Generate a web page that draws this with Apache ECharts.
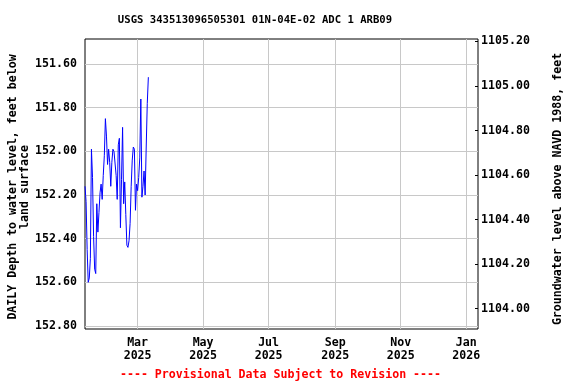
<!DOCTYPE html>
<html>
<head>
<meta charset="utf-8">
<script src="https://cdn.jsdelivr.net/npm/echarts@6/dist/echarts.min.js"></script>
<style>html,body{margin:0;padding:0;background:#fff}#c{width:576px;height:384px}</style>
</head>
<body>
<div id="c"></div>
<script>
// Daily depth to water level (feet below land surface), starting 2025-01-11
var startDate = [2025, 0, 11];
var depthValues = [
  152.16, 152.23, 152.45, 152.60, 152.58, 152.49, 151.99, 152.12, 152.39, 152.54,
  152.56, 152.24, 152.37, 152.28, 152.19, 152.15, 152.22, 152.11, 152.02, 151.85,
  151.93, 152.06, 151.99, 152.05, 152.16, 152.05, 151.99, 152.00, 152.00, 152.11,
  152.22, 151.97, 151.94, 152.35, 152.13, 151.89, 152.24, 152.14, 152.29, 152.43,
  152.44, 152.41, 152.33, 152.16, 152.04, 151.98, 151.99, 152.27, 152.15, 152.18,
  152.12, 152.03, 151.76, 152.21, 152.16, 152.09, 152.20, 151.98, 151.78, 151.66
];
var leftTicks = [151.6, 151.8, 152.0, 152.2, 152.4, 152.6, 152.8];
var rightTicks = [1104.0, 1104.2, 1104.4, 1104.6, 1104.8, 1105.0, 1105.2];
var monthTicks = [[2025, 2], [2025, 4], [2025, 6], [2025, 8], [2025, 10], [2026, 0]];
var monthNames = ['Jan','Feb','Mar','Apr','May','Jun','Jul','Aug','Sep','Oct','Nov','Dec'];

var seriesData = depthValues.map(function (v, i) {
  return [new Date(startDate[0], startDate[1], startDate[2] + i).getTime(), v];
});
var xTickValues = monthTicks.map(function (m) { return new Date(m[0], m[1], 1).getTime(); });

var FONT = 'DejaVu Sans Mono';
var chart = echarts.init(document.getElementById('c'), null, {renderer: 'canvas'});
chart.setOption({
  animation: false,
  backgroundColor: '#fff',
  grid: {left: 85, right: 98, top: 39, bottom: 55, show: true, borderColor: '#000', borderWidth: 1, backgroundColor: '#fff'},
  xAxis: {
    type: 'value',
    min: new Date(2025, 0, 11).getTime(),
    max: new Date(2026, 0, 12).getTime(),
    axisLine: {show: false},
    axisTick: {show: false, customValues: xTickValues},
    splitLine: {show: true, lineStyle: {color: '#c8c8c8', width: 1}},
    axisLabel: {
      customValues: xTickValues,
      margin: 8,
      color: '#000', fontFamily: FONT, fontWeight: 'bold', fontSize: 11.6, lineHeight: 12.7,
      hideOverlap: false,
      formatter: function (v) { var d = new Date(v); return monthNames[d.getMonth()] + '\n' + d.getFullYear(); }
    }
  },
  yAxis: [{
    type: 'value',
    inverse: true,
    min: 151.485, max: 152.814,
    position: 'left',
    axisLine: {show: false},
    axisTick: {show: false, customValues: leftTicks},
    splitLine: {show: true, lineStyle: {color: '#c8c8c8', width: 1}},
    axisLabel: {
      customValues: leftTicks, margin: 8,
      color: '#000', fontFamily: FONT, fontWeight: 'bold', fontSize: 11.6,
      formatter: function (v) { return v.toFixed(2); }
    }
  }, {
    type: 'value',
    min: 1103.909, max: 1105.211,
    position: 'right',
    axisLine: {show: false},
    axisTick: {show: true, inside: true, length: 3, customValues: rightTicks, lineStyle: {color: '#000'}},
    splitLine: {show: false},
    axisLabel: {
      customValues: rightTicks, margin: 3,
      color: '#000', fontFamily: FONT, fontWeight: 'bold', fontSize: 11.6,
      formatter: function (v) { return v.toFixed(2); }
    }
  }],
  graphic: [
    {type: 'text', x: 255, y: 20, style: {text: 'USGS 343513096505301 01N-04E-02 ADC 1 ARB09', fill: '#000', font: 'bold 10.6px "DejaVu Sans Mono"', align: 'center', verticalAlign: 'middle'}},
    {type: 'text', x: 18.9, y: 187, rotation: Math.PI / 2, style: {text: 'DAILY Depth to water level, feet below\nland surface', fill: '#000', font: 'bold 11.6px "DejaVu Sans Mono"', lineHeight: 12.3, align: 'center', verticalAlign: 'middle'}},
    {type: 'text', x: 558, y: 189, rotation: Math.PI / 2, style: {text: 'Groundwater level above NAVD 1988, feet', fill: '#000', font: 'bold 11.6px "DejaVu Sans Mono"', align: 'center', verticalAlign: 'middle'}},
    {type: 'text', x: 280.5, y: 374.5, style: {text: '---- Provisional Data Subject to Revision ----', fill: '#ff0000', font: 'bold 11.6px "DejaVu Sans Mono"', align: 'center', verticalAlign: 'middle'}}
  ],
  series: [{
    type: 'line',
    yAxisIndex: 0,
    data: seriesData,
    showSymbol: false,
    symbol: 'none',
    lineStyle: {color: '#0000ff', width: 1},
    z: 3
  }]
});
</script>
</body>
</html>
